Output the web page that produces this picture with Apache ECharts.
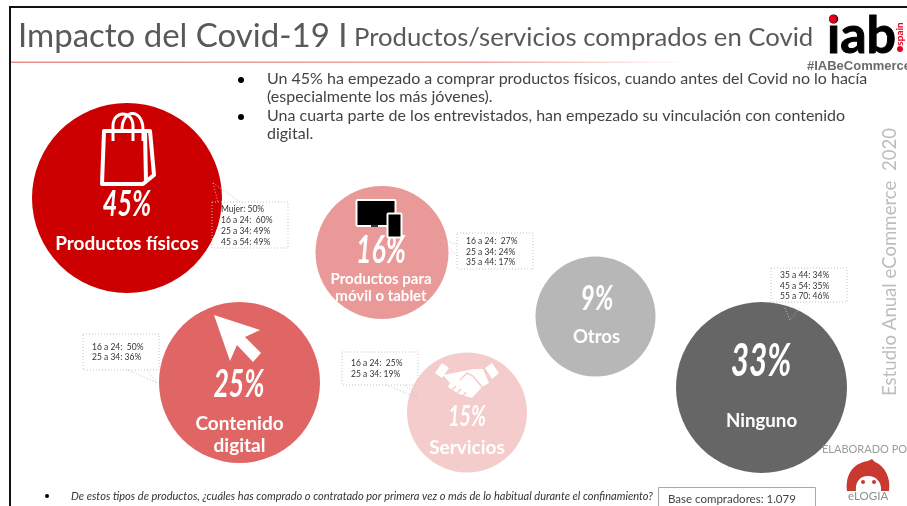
<!DOCTYPE html>
<html>
<head>
<meta charset="utf-8">
<title>Impacto del Covid-19</title>
<style>
html, body { margin: 0; padding: 0; background: #fff; }
#chart { width: 907px; height: 506px; }
</style>
<script src="https://cdn.jsdelivr.net/npm/echarts@6/dist/echarts.min.js"></script>
</head>
<body>
<div id="chart"></div>
<script>
// datos
const categories = ['Productos físicos', 'Productos para\nmóvil o tablet', 'Contenido\ndigital', 'Servicios', 'Otros', 'Ninguno'];
const shares = [45, 16, 25, 15, 9, 33];
const detailLines = [
    ['Mujer: 50%', '16 a 24:  60%', '25 a 34: 49%', '45 a 54: 49%'],
    ['16 a 24:  27%', '25 a 34: 24%', '35 a 44: 17%'],
    ['16 a 24:  50%', '25 a 34: 36%'],
    ['16 a 24:  25%', '25 a 34: 19%'],
    ['35 a 44: 34%', '45 a 54: 35%', '55 a 70: 46%']
];
const bullets = [
    ['Un 45% ha empezado a comprar productos físicos, cuando antes del Covid no lo hacía', '(especialmente los más jóvenes).'],
    ['Una cuarta parte de los entrevistados, han empezado su vinculación con contenido', 'digital.']
];

// colocacion de las burbujas (el eje va en pixeles de la diapositiva)
const bubbleX = [127, 382, 239.5, 467, 595.5, 761.5];
const bubbleY = [198, 252.5, 382.5, 412.5, 316.5, 387.5];
const bubbleSize = [190, 133, 161, 120, 120, 171];
const bubbleColor = ['#cc0000', '#ea9999', '#e06666', '#f4cccc', '#b7b7b7', '#666666'];
const pctX = [127, 381, 239, 467, 597, 761];
const pctY = [204, 251, 385, 417, 299, 361];
const pctFont = [36, 38, 38, 28, 35, 45];
const nameOffset = [[0, 46], [-1, 35], [0, 52], [0, 35], [1, 21], [0, 33]];
const nameFont = [19, 15, 19, 19, 18.5, 18.7];
const nameLine = [20, 17, 22, 20, 20, 20];

const sans = '"Lato", sans-serif';

function txt(text, x, y, size, fill, weight) {
    return {
        type: 'text', z: 20,
        style: { text: text, x: x, y: y, fill: fill, font: (weight ? weight + ' ' : '') + size + 'px ' + sans, verticalAlign: 'middle' }
    };
}

// el componente graphic no admite type 'path', se registra cada forma
let shapeCount = 0;
function pathEl(d, style, z) {
    const name = 'svgPath' + (shapeCount++);
    echarts.graphic.registerShape(name, echarts.graphic.extendPath(d, {}));
    return { type: name, z: z || 20, style: style };
}

// cajas punteadas con los desgloses
const boxes = [
    { x: 212, y: 202, w: 76, h: 46, tx: 221, ty: [209, 220, 231, 242], tail: 'M213 183L240 202M213 183L218 202' },
    { x: 457, y: 233, w: 76, h: 36, tx: 466, ty: [241, 252, 262], tail: 'M441 240L457 244M441 240L457 256' },
    { x: 83, y: 334, w: 76, h: 36, tx: 92, ty: [347, 357], tail: 'M128 370L157 383M147 370L157 383' },
    { x: 342, y: 352, w: 76, h: 33, tx: 351, ty: [363, 374], tail: 'M386 385L418 398M405 385L418 398' },
    { x: 771, y: 268, w: 76, h: 34, tx: 780, ty: [275, 286, 296], tail: 'M785 308L790 320L800 308' }
];

const dotted = { fill: null, stroke: '#c4c4c4', lineWidth: 1, lineDash: [1, 2] };
const graphics = [];

// marco y cabecera
graphics.push({ type: 'rect', z: 1, shape: { x: 9, y: 6, width: 898, height: 2 }, style: { fill: '#111' } });
graphics.push({ type: 'rect', z: 1, shape: { x: 9, y: 6, width: 2, height: 500 }, style: { fill: '#111' } });
graphics.push({
    type: 'rect', z: 1, shape: { x: 11, y: 61.5, width: 680, height: 1.5 },
    style: { fill: new echarts.graphic.LinearGradient(0, 0, 1, 0, [
        { offset: 0, color: '#e58f88' }, { offset: 0.7, color: '#eea9a4' }, { offset: 1, color: '#ffffff' }
    ]) }
});
graphics.push(txt('Impacto del Covid-19 I', 18, 36, 33, '#595959'));
graphics.push(txt('Productos/servicios comprados en Covid', 354, 38, 25.7, '#595959'));

// texto superior
bullets.forEach(function (b, i) {
    const top = i === 0 ? 79 : 116;
    graphics.push({ type: 'circle', z: 20, shape: { cx: 241, cy: top + 1, r: 3 }, style: { fill: '#000' } });
    b.forEach(function (line, j) {
        graphics.push(txt(line, 267, top + j * 18.3, 16, '#434343'));
    });
});

// desgloses
boxes.forEach(function (b, i) {
    graphics.push({ type: 'rect', z: 20, shape: { x: b.x, y: b.y, width: b.w, height: b.h }, style: dotted });
    graphics.push(pathEl(b.tail, dotted));
    detailLines[i].forEach(function (line, j) {
        graphics.push(txt(line, b.tx, b.ty[j], 8.5, '#333'));
    });
});

// porcentajes: fuente estrecha simulada con scaleX porque no hay condensada
shares.forEach(function (v, i) {
    graphics.push({
        type: 'text', z: 22, x: pctX[i], y: pctY[i], scaleX: 0.7,
        style: { text: v + '%', x: 0, y: 0, fill: '#fff', font: 'italic bold ' + pctFont[i] + 'px ' + sans, align: 'center', verticalAlign: 'middle' }
    });
});

// iconos
const white = { fill: null, stroke: '#fff', lineWidth: 4, lineJoin: 'round' };
graphics.push(pathEl('M104 131L150 131L154 175L143 184L102 184ZM145 131L146 182', white));
graphics.push(pathEl('M113 141L113 126C113 110 133 110 133 126L133 141M122 130C122 108 143 108 143 130L143 141', { fill: null, stroke: '#fff', lineWidth: 3 }));
graphics.push(pathEl('M214 315L260 330L245 337L261 353L253 362L237 345L230 361Z', { fill: '#fff' }));

graphics.push({ type: 'rect', z: 20, shape: { x: 356.5, y: 200, width: 39, height: 26, r: 1 }, style: { fill: '#000', stroke: '#fff', lineWidth: 2 } });
graphics.push({ type: 'rect', z: 21, shape: { x: 371, y: 225, width: 7, height: 2 }, style: { fill: '#333' } });
graphics.push({ type: 'rect', z: 22, shape: { x: 387.5, y: 213.5, width: 14, height: 24, r: 1 }, style: { fill: '#000', stroke: '#fff', lineWidth: 2 } });

graphics.push(pathEl('M435 373L442 363L449 368L442 378ZM485 368L492 363L499 373L492 379Z', { fill: '#fff' }));
graphics.push(pathEl('M443 375L464 371L473 369L483 369L489 383L482 387L472 398L465 396L457 393L448 387L450 383Z', { fill: '#fff' }));
graphics.push(pathEl('M460 380L467 373L473 376L482 387M456 386L452 390M461 389L457 393M466 392L463 396', { fill: null, stroke: '#f4cccc', lineWidth: 1.5 }, 21));

// logo iab
graphics.push({
    type: 'text', z: 20,
    style: { text: 'iab', x: 827, y: 36, fill: '#000', stroke: '#000', lineWidth: 1, font: 'bold 52px ' + sans, verticalAlign: 'middle' }
});
graphics.push({ type: 'circle', z: 21, shape: { cx: 833, cy: 19, r: 4 }, style: { fill: '#e2001a' } });
graphics.push({
    type: 'text', z: 21, x: 900, y: 34, rotation: Math.PI / 2,
    style: { text: 'spain', x: 0, y: 0, fill: '#e2001a', font: 'bold 10px ' + sans, align: 'center', verticalAlign: 'middle' }
});
graphics.push({ type: 'circle', z: 21, shape: { cx: 900, cy: 49, r: 3 }, style: { fill: '#e2001a' } });
graphics.push({
    type: 'text', z: 21,
    style: { text: '#IABeCommerce', x: 807, y: 66, fill: '#6b6b6b', font: 'bold 13px "Liberation Sans"', verticalAlign: 'middle' }
});

// lateral
graphics.push({
    type: 'text', z: 20, x: 890, y: 262, rotation: Math.PI / 2,
    style: { text: 'Estudio Anual eCommerce  2020', x: 0, y: 0, fill: '#bdbdbd', font: '18.6px ' + sans, align: 'center', verticalAlign: 'middle' }
});

// pie
graphics.push({ type: 'circle', z: 20, shape: { cx: 47, cy: 496, r: 2 }, style: { fill: '#000' } });
graphics.push(txt('De estos tipos de productos, ¿cuáles has comprado o contratado por primera vez o más de lo habitual durante el confinamiento?', 71, 496, 11.05, '#333', 'italic'));
graphics.push({ type: 'rect', z: 20, shape: { x: 658.5, y: 487.5, width: 157, height: 30 }, style: { fill: '#fff', stroke: '#a8a8a8', lineWidth: 1 } });
graphics.push(txt('Base compradores: 1.079', 668, 499, 11.5, '#434343'));

// elogia
graphics.push(txt('ELABORADO POR', 822, 449, 11, '#9c9c9c'));
graphics.push(pathEl('M847 491C845 475 853 463 868 461L872 459L875 462C885 466 891 478 889 491L881 491C882 482 876 476 868 476C860 476 855 482 856 491Z', { fill: '#c8392f' }));
graphics.push({ type: 'circle', z: 21, shape: { cx: 863, cy: 482, r: 2 }, style: { fill: '#c8392f' } });
graphics.push({ type: 'circle', z: 21, shape: { cx: 874, cy: 482, r: 2 }, style: { fill: '#c8392f' } });
graphics.push({
    type: 'text', z: 20, x: 848, y: 497, scaleX: 1.1,
    style: { text: 'eLOGIA', x: 0, y: 0, fill: '#8c8c8c', font: '10.5px ' + sans, verticalAlign: 'middle' }
});

const chart = echarts.init(document.getElementById('chart'), null, { renderer: 'canvas' });
chart.setOption({
    animation: false,
    backgroundColor: '#fff',
    grid: { left: 0, right: 0, top: 0, bottom: 0 },
    xAxis: { type: 'value', min: 0, max: 907, show: false },
    yAxis: { type: 'value', min: 0, max: 506, inverse: true, show: false },
    graphic: { elements: graphics },
    series: [
        {
            name: 'Porcentaje',
            type: 'scatter',
            z: 5,
            data: shares.map(function (v, i) {
                return {
                    name: categories[i],
                    value: [bubbleX[i], bubbleY[i], v],
                    symbolSize: bubbleSize[i],
                    itemStyle: { color: bubbleColor[i], opacity: 1 }
                };
            })
        },
        {
            name: 'Categoria',
            type: 'scatter',
            z: 6,
            symbolSize: 1,
            itemStyle: { color: 'transparent', opacity: 1 },
            data: categories.map(function (c, i) {
                return {
                    name: c,
                    value: [bubbleX[i], bubbleY[i]],
                    label: {
                        show: true,
                        position: 'inside',
                        offset: nameOffset[i],
                        formatter: c,
                        color: '#fff',
                        fontFamily: sans,
                        fontWeight: 'bold',
                        fontSize: nameFont[i],
                        lineHeight: nameLine[i]
                    }
                };
            })
        }
    ]
});
</script>
</body>
</html>
